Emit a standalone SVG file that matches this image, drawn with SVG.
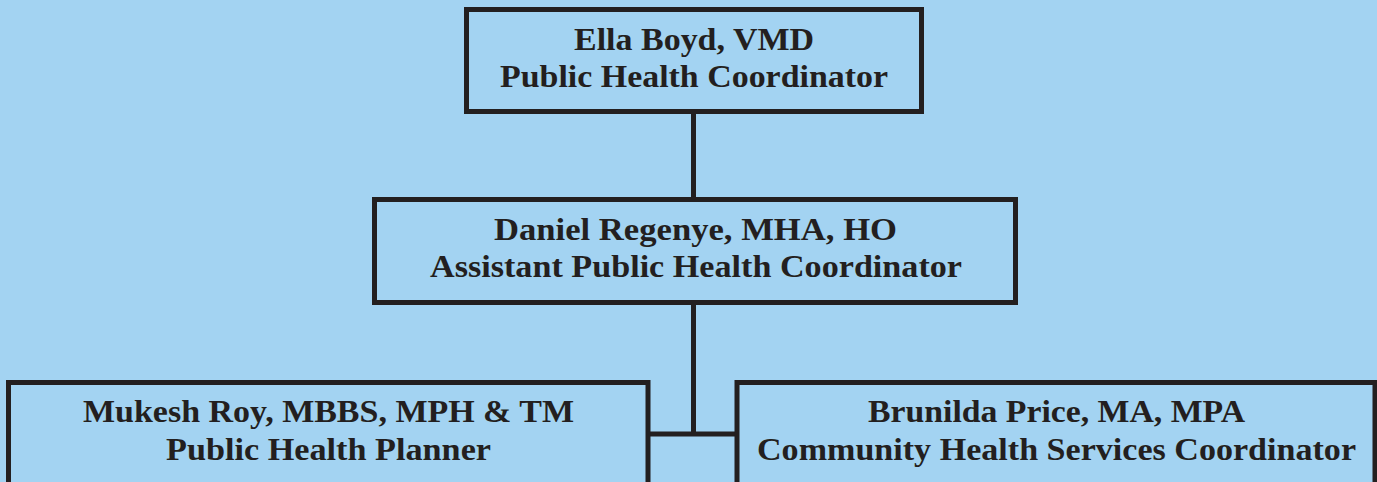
<svg xmlns="http://www.w3.org/2000/svg" width="1377" height="482" viewBox="0 0 1377 482">
<style>
.box{fill:#a3d3f2;stroke:#231f20;stroke-width:5}
.conn{fill:none;stroke:#231f20;stroke-width:5}
text{font-family:"Liberation Serif","Times New Roman",serif;font-weight:bold;font-size:32px;fill:#231f20;text-anchor:middle}
</style>
<rect x="0" y="0" width="1377" height="482" fill="#a3d3f2"/>
<g id="connectors">
<path class="conn" d="M693.5 111.5V199.5M693.5 302.5V434M648 434H737"/>
</g>
<g id="ella">
<rect class="box" x="466.5" y="9.5" width="455" height="102"/>
<text x="694" y="49.5" textLength="240" lengthAdjust="spacingAndGlyphs">Ella Boyd, VMD</text>
<text x="694" y="87" textLength="388" lengthAdjust="spacingAndGlyphs">Public Health Coordinator</text>
</g>
<g id="daniel">
<rect class="box" x="374.5" y="199.5" width="641" height="103"/>
<text x="695.5" y="240" textLength="403" lengthAdjust="spacingAndGlyphs">Daniel Regenye, MHA, HO</text>
<text x="696" y="277" textLength="532" lengthAdjust="spacingAndGlyphs">Assistant Public Health Coordinator</text>
</g>
<g id="mukesh">
<rect class="box" x="8.5" y="382.5" width="639.5" height="150"/>
<text x="328.5" y="421.5" textLength="491" lengthAdjust="spacingAndGlyphs">Mukesh Roy, MBBS, MPH &amp; TM</text>
<text x="328.5" y="459.5" textLength="325" lengthAdjust="spacingAndGlyphs">Public Health Planner</text>
</g>
<g id="brunilda">
<rect class="box" x="737" y="382.5" width="638" height="150"/>
<text x="1056.5" y="421.5" textLength="377" lengthAdjust="spacingAndGlyphs">Brunilda Price, MA, MPA</text>
<text x="1056.5" y="459.5" textLength="599" lengthAdjust="spacingAndGlyphs">Community Health Services Coordinator</text>
</g>
</svg>
